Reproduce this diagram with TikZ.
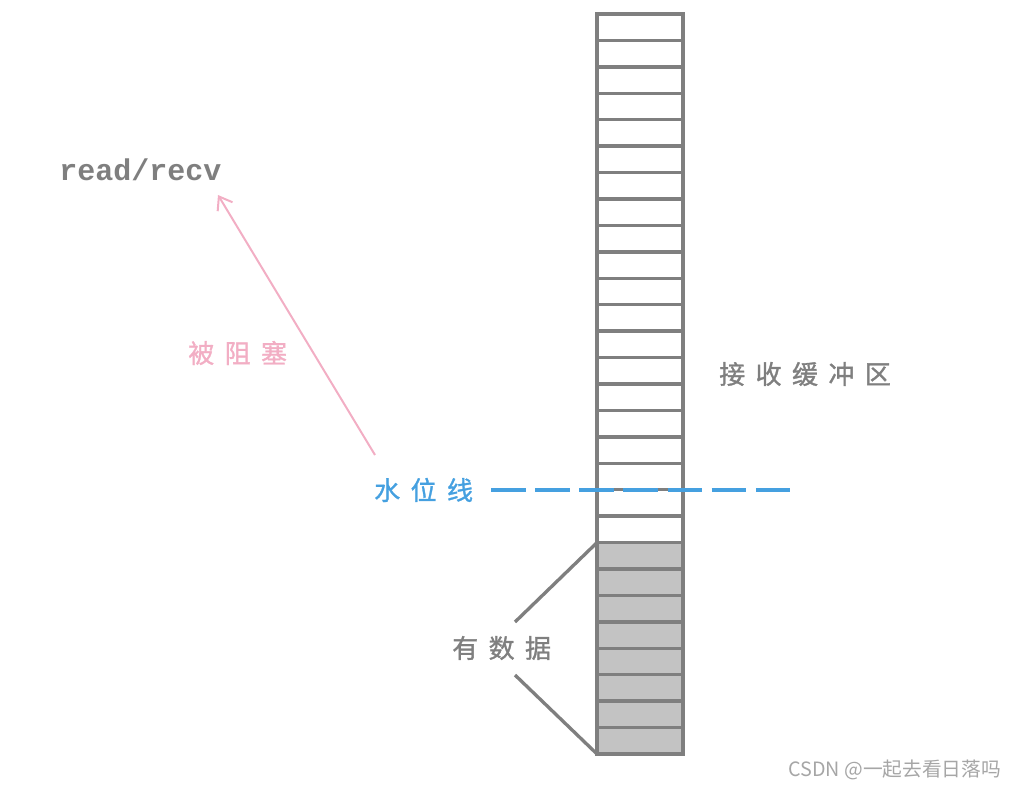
\documentclass[tikz,border=0pt]{standalone}
\usepackage{fontspec}
\newfontfamily\cjk[LetterSpace=40,FakeBold=1.2]{Noto Sans CJK SC}
\newfontfamily\cjkplain{Noto Sans CJK SC}
\newfontfamily\monob[BoldFont=Liberation Mono Bold]{Liberation Mono}
\usetikzlibrary{arrows.meta}
\definecolor{boxgray}{HTML}{7F7F7F}
\definecolor{fillgray}{HTML}{C3C3C3}
\definecolor{pinkc}{HTML}{F2AEC4}
\definecolor{bluec}{HTML}{45A0E0}
\definecolor{wmgray}{HTML}{A6A6A6}
\tikzset{
  cell/.style={draw=boxgray, line width=2.5pt, minimum width=64.5pt, minimum height=19.82pt, inner sep=0pt, outer sep=0pt},
  datacell/.style={cell, fill=fillgray},
  cjklabel/.style={font=\cjk\fontsize{19.5pt}{22pt}\selectfont, inner sep=0pt, anchor=west},
  brace/.style={draw=boxgray, line width=2.5pt},
}
\begin{document}
\begin{tikzpicture}[x=0.75pt,y=-0.75pt]
\useasboundingbox (0,0) rectangle (1014,788);
% buffer cells
\foreach \i in {0,...,19} {
  \node[cell] (cell\i) at (640,{14+(\i+0.5)*26.4286}) {};
}
\foreach \i in {20,...,27} {
  \node[datacell] (cell\i) at (640,{14+(\i+0.5)*26.4286}) {};
}
% water level line
\coordinate (wlstart) at (491,490);
\coordinate (wlend) at (790,490);
\draw[bluec, line width=2.5pt, dash pattern=on 25.9pt off 7.2pt] (wlstart) -- (wlend);
% labels
\node[font=\monob\bfseries\fontsize{22.5pt}{26pt}\selectfont, text=boxgray, anchor=base west, inner sep=0pt] (rr) at (59,181) {read/recv};
\node[cjklabel, text=pinkc] (blk) at (188,353) {被阻塞};
\node[cjklabel, text=bluec] (wl) at (374,490) {水位线};
\node[cjklabel, text=boxgray] (buf) at (719,374) {接收缓冲区};
\node[cjklabel, text=boxgray] (data) at (452,648) {有数据};
\node[font=\cjkplain\fontsize{14.8pt}{17pt}\selectfont, text=wmgray, inner sep=0pt, anchor=west] (wm) at (788,770) {CSDN @一起去看日落吗};
% blocked arrow
\coordinate (arrS) at (375,455);
\coordinate (arrE) at (218,195);
\draw[pinkc, line width=1.5pt, -{Straight Barb[length=9pt,width=13pt]}] (arrS) -- (arrE);
% data brace lines
\coordinate (d1) at (515,622);
\coordinate (d2) at (515,675);
\draw[brace] (cell20.north west) -- (d1);
\draw[brace] (d2) -- (cell27.south west);
\end{tikzpicture}
\end{document}
